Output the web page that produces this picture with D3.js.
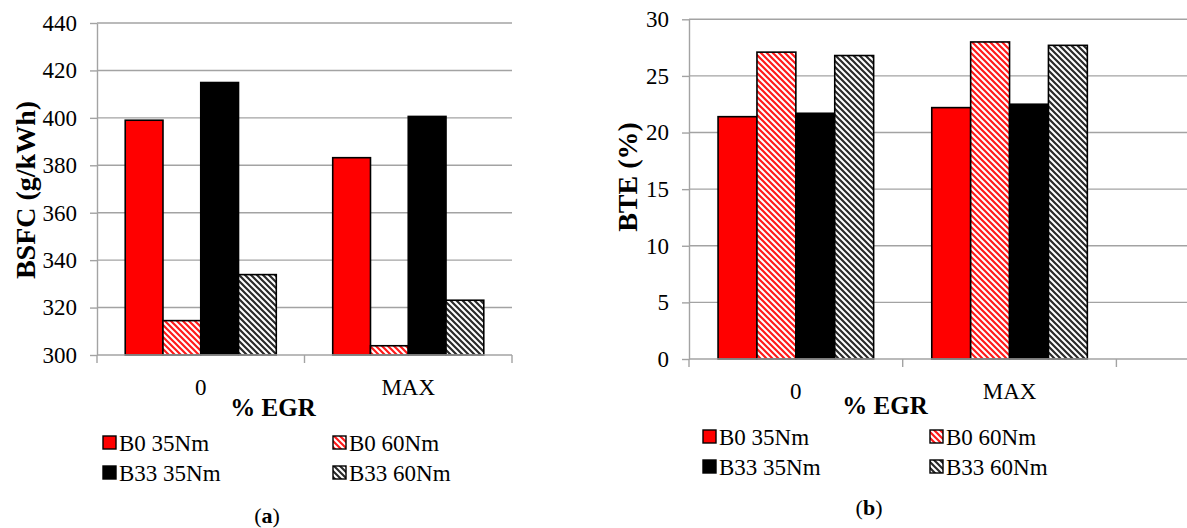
<!DOCTYPE html>
<html>
<head>
<meta charset="utf-8">
<script src="https://cdn.jsdelivr.net/npm/d3@7"></script>
<style>
  html, body { margin: 0; padding: 0; background: #fff; }
  svg { display: block; }
  svg text { font-family: "Times New Roman", "Liberation Serif", Tinos, "DejaVu Serif", serif; fill: #000; }
</style>
</head>
<body>
<svg id="chart" width="1187" height="528"></svg>
<script>
// ---- data ----
const categories = ["0", "MAX"];
const seriesNames = ["B0 35Nm", "B0 60Nm", "B33 35Nm", "B33 60Nm"];
const seriesFills = ["#ff0000", "url(#hatchRed)", "#000000", "url(#hatchBlack)"];

// BSFC (g/kWh), one array per series, values for EGR = 0 and MAX
const bsfcB0_35 = [399.0, 383.2];
const bsfcB0_60 = [314.5, 303.9];
const bsfcB33_35 = [414.9, 400.6];
const bsfcB33_60 = [333.9, 323.1];
const bsfcTicks = [300, 320, 340, 360, 380, 400, 420, 440];

// BTE (%)
const bteB0_35 = [21.4, 22.2];
const bteB0_60 = [27.1, 28.0];
const bteB33_35 = [21.7, 22.5];
const bteB33_60 = [26.8, 27.7];
const bteTicks = [0, 5, 10, 15, 20, 25, 30];

const svg = d3.select("#chart");
const defs = svg.append("defs");

// diagonal hatch fills
function hatch(id, color) {
  const p = defs.append("pattern")
    .attr("id", id).attr("patternUnits", "userSpaceOnUse")
    .attr("width", 6).attr("height", 6);
  p.append("rect").attr("width", 6).attr("height", 6).attr("fill", "#fff");
  p.append("path")
    .attr("d", "M-1,-1 L7,7 M-1,5 L1,7 M5,-1 L7,1")
    .attr("stroke", color).attr("stroke-width", 2.2).attr("fill", "none");
}
hatch("hatchRed", "#ff1a1a");
hatch("hatchBlack", "#2a2a2a");

const gridColor = "#a3a3a3";

function panel(cfg) {
  const g = svg.append("g");
  const x = d3.scaleBand().domain(categories).range([cfg.left, cfg.right]);
  const bw = x.bandwidth();
  const xs = d3.scaleBand().domain(seriesNames).range([bw * 0.136, bw * 0.864]);
  const y = d3.scaleLinear().domain(cfg.domain).range([cfg.bottom, cfg.top]);

  // horizontal gridlines
  g.append("g").selectAll("line").data(cfg.ticks.slice(1)).join("line")
    .attr("x1", cfg.left).attr("x2", cfg.gridEnd)
    .attr("y1", d => y(d)).attr("y2", d => y(d))
    .attr("stroke", gridColor).attr("stroke-width", 1.4);

  // y axis
  const ya = g.append("g").attr("transform", `translate(${cfg.left},0)`)
    .call(d3.axisLeft(y).tickValues(cfg.ticks).tickSize(7).tickPadding(13).tickSizeOuter(0));
  ya.attr("font-family", null).attr("font-size", null);
  ya.select(".domain").attr("stroke", gridColor).attr("stroke-width", 1.4);
  ya.selectAll(".tick line").attr("stroke", gridColor).attr("stroke-width", 1.4);
  ya.selectAll(".tick text").style("font-size", "23px").attr("fill", "#000");

  // bars
  const rows = [];
  categories.forEach((c, i) => {
    cfg.values.forEach((arr, s) => rows.push({ cat: c, s, v: arr[i] }));
  });
  g.append("g").selectAll("rect").data(rows).join("rect")
    .attr("x", d => x(d.cat) + xs(seriesNames[d.s]))
    .attr("width", xs.bandwidth())
    .attr("y", d => y(d.v))
    .attr("height", d => y(cfg.domain[0]) - y(d.v))
    .attr("fill", d => seriesFills[d.s])
    .attr("stroke", "#000").attr("stroke-width", 1.6);

  // x axis line and category boundary ticks
  g.append("line").attr("x1", cfg.left).attr("x2", cfg.gridEnd)
    .attr("y1", cfg.bottom).attr("y2", cfg.bottom)
    .attr("stroke", gridColor).attr("stroke-width", 1.4);
  const bounds = categories.map(c => x(c)).concat([x.range()[1]]);
  g.append("g").selectAll("line").data(bounds).join("line")
    .attr("x1", d => d).attr("x2", d => d)
    .attr("y1", cfg.bottom).attr("y2", cfg.bottom + 8)
    .attr("stroke", gridColor).attr("stroke-width", 1.4);

  // category labels
  g.append("g").selectAll("text").data(categories).join("text")
    .attr("x", d => x(d) + bw / 2).attr("y", cfg.catY).attr("dy", "0.35em")
    .attr("text-anchor", "middle").style("font-size", "23px").text(d => d);

  // axis titles
  g.append("text").attr("x", cfg.xTitle[0]).attr("y", cfg.xTitle[1]).attr("dy", "0.35em")
    .attr("text-anchor", "middle").style("font-size", "25px").style("font-weight", "bold")
    .text("% EGR");
  g.append("text")
    .attr("transform", `translate(${cfg.yTitle[0]},${cfg.yTitle[1]}) rotate(-90)`)
    .attr("dy", "0.35em").attr("text-anchor", "middle")
    .style("font-size", "28px").style("font-weight", "bold").text(cfg.yLabel);

  // legend (2 x 2)
  const lg = g.append("g");
  seriesNames.forEach((name, i) => {
    const col = i % 2, row = Math.floor(i / 2);
    const lx = cfg.legendX[col], ly = cfg.legendY[row];
    lg.append("rect").attr("x", lx).attr("y", ly - 7).attr("width", 13).attr("height", 13)
      .attr("fill", seriesFills[i]).attr("stroke", "#000").attr("stroke-width", 1.4);
    lg.append("text").attr("x", lx + 16).attr("y", ly).attr("dy", "0.35em")
      .style("font-size", "23px").text(name);
  });

  // panel caption
  const cap = g.append("text").attr("x", cfg.caption[0]).attr("y", cfg.caption[1]).attr("dy", "0.35em")
    .attr("text-anchor", "middle").style("font-size", "22px");
  cap.append("tspan").text("(");
  cap.append("tspan").style("font-weight", "bold").text(cfg.captionLetter);
  cap.append("tspan").text(")");
}

panel({
  left: 97, right: 512, gridEnd: 512, top: 23, bottom: 355,
  domain: [300, 440], ticks: bsfcTicks,
  values: [bsfcB0_35, bsfcB0_60, bsfcB33_35, bsfcB33_60],
  catY: 387, xTitle: [273, 407], yTitle: [25, 190], yLabel: "BSFC (g/kWh)",
  legendX: [103, 333], legendY: [443, 473],
  caption: [267, 515], captionLetter: "a"
});

panel({
  left: 689, right: 1116.4, gridEnd: 1187, top: 19.3, bottom: 359,
  domain: [0, 30], ticks: bteTicks,
  values: [bteB0_35, bteB0_60, bteB33_35, bteB33_60],
  catY: 391, xTitle: [885, 405], yTitle: [627, 177], yLabel: "BTE (%)",
  legendX: [703, 930], legendY: [437, 467],
  caption: [869, 507], captionLetter: "b"
});
</script>
</body>
</html>
